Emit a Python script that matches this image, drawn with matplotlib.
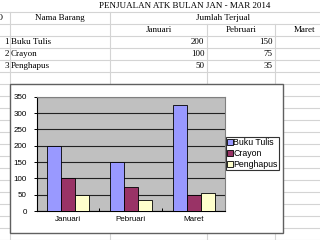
import matplotlib.pyplot as plt
from matplotlib.patches import Rectangle
import numpy as np

months = ["Januari", "Pebruari", "Maret"]
items = ["Buku Tulis", "Crayon", "Penghapus"]
buku_tulis = [200, 150, 325]
crayon = [100, 75, 50]
penghapus = [50, 35, 55]
y_ticks = [0, 50, 100, 150, 200, 250, 300, 350]

series = [buku_tulis, crayon, penghapus]
colors = ["#9999FF", "#993366", "#FFFFCC"]

W, H = 320, 240
fig = plt.figure(figsize=(W / 100, H / 100), dpi=100)

# sheet background, drawn in pixel coordinates
sheet = fig.add_axes([0, 0, 1, 1])
sheet.set_xlim(0, W)
sheet.set_ylim(H, 0)
sheet.axis("off")

grid_c = "#d4d4d4"
for k in range(20):
    y = 11.75 + 12 * k
    sheet.plot([0, W], [y, y], color=grid_c, lw=0.8)
sheet.plot([10, 10], [11.75, H], color=grid_c, lw=0.8)
sheet.plot([110, 110], [11.75, H], color=grid_c, lw=0.8)
sheet.plot([207, 207], [23.75, H], color=grid_c, lw=0.8)
sheet.plot([275, 275], [23.75, H], color=grid_c, lw=0.8)

serif = "Liberation Serif"
fs = 6.5
sheet.text(185, 6.5, "PENJUALAN ATK BULAN JAN - MAR 2014", family=serif,
           fontsize=fs, ha="center", va="center")
sheet.text(3.5, 18, "NO", family=serif, fontsize=fs, ha="right", va="center")
sheet.text(60, 18, "Nama Barang", family=serif, fontsize=fs, ha="center", va="center")
sheet.text(223.5, 18, "Jumlah Terjual", family=serif, fontsize=fs,
           ha="center", va="center")
for x, m in zip([158.5, 241, 305], months):
    sheet.text(x, 30, m, family=serif, fontsize=fs, ha="center", va="center")

for i, name in enumerate(items):
    y = 42 + 12 * i
    sheet.text(9, y, str(i + 1), family=serif, fontsize=fs, ha="right", va="center")
    sheet.text(11, y, name, family=serif, fontsize=fs, ha="left", va="center")
    sheet.text(204.5, y, str(series[i][0]), family=serif, fontsize=fs,
               ha="right", va="center")
    sheet.text(272.5, y, str(series[i][1]), family=serif, fontsize=fs,
               ha="right", va="center")

# chart area
sheet.add_patch(Rectangle((10, 84), 273.3, 148.5, facecolor="white",
                          edgecolor="#606060", lw=1.0, zorder=5))

# plot area
ax = fig.add_axes([36.7 / W, 1 - 211 / H, (225 - 36.7) / W, (211 - 96.7) / H],
                  zorder=6)
ax.set_facecolor("#C0C0C0")
x = np.arange(len(months))
bw = 0.222
for j, (vals, c, name) in enumerate(zip(series, colors, items)):
    ax.bar(x + (j - 1) * bw, vals, bw, color=c, edgecolor="black",
           linewidth=0.6, label=name, zorder=3)

ax.set_xlim(-0.5, 2.5)
ax.set_ylim(0, 350)
ax.set_yticks(y_ticks)
ax.set_yticklabels([str(v) for v in y_ticks], family="Liberation Sans",
                   fontsize=5.8)
ax.yaxis.grid(True, color="#222222", lw=0.8)
ax.set_axisbelow(True)
ax.set_xticks([0.5, 1.5], minor=False)
ax.set_xticklabels([])
ax.set_xticks(x, minor=True)
ax.set_xticklabels(months, minor=True, family="Liberation Sans", fontsize=5.8)
ax.tick_params(axis="x", which="minor", length=0, pad=3.5)
ax.tick_params(axis="x", which="major", direction="in", length=2.5, width=0.7)
ax.tick_params(axis="y", direction="out", length=2.5, width=0.7, pad=4.5)
for s in ["top", "right"]:
    ax.spines[s].set_color("#808080")
    ax.spines[s].set_linewidth(0.8)
for s in ["left", "bottom"]:
    ax.spines[s].set_color("black")
    ax.spines[s].set_linewidth(0.8)

leg = fig.legend(loc="upper left", bbox_to_anchor=(226 / W, 1 - 137 / H),
                 prop={"family": "Liberation Sans", "size": 6.3},
                 fancybox=False, edgecolor="#333333", framealpha=1,
                 borderpad=0.15, handlelength=0.6, handleheight=0.6,
                 handletextpad=0.1, labelspacing=0.2, borderaxespad=0)
leg.get_frame().set_linewidth(0.8)
leg.set_zorder(7)

fig.savefig("out.png", dpi=100)
